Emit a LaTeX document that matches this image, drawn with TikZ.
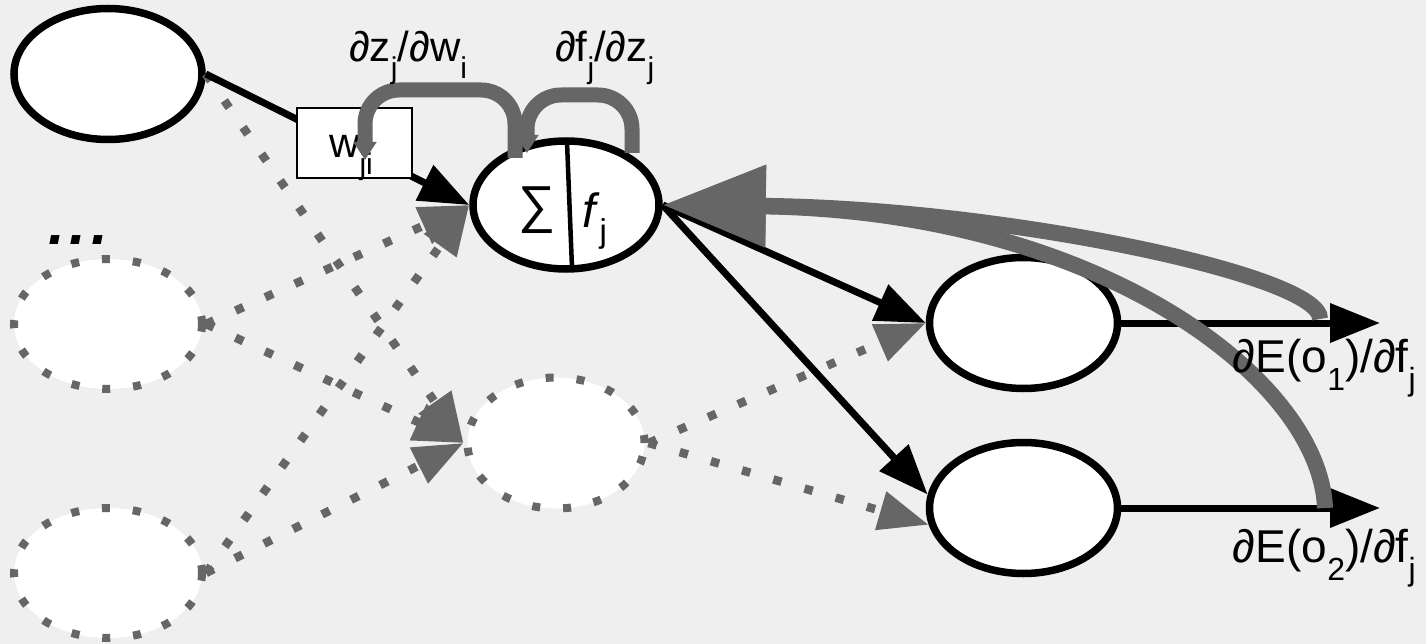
\documentclass[tikz,border=0pt]{standalone}
\usepackage{fontspec}
\setmainfont{Liberation Sans}
\usetikzlibrary{arrows.meta,shapes.geometric}

\definecolor{bgcol}{HTML}{EFEFEF}
\definecolor{dgray}{HTML}{666666}

% lowered, smaller index as used in the formulas
\newcommand{\lsub}[1]{\raisebox{-17pt}{\fontsize{30}{30}\selectfont #1}}
\newcommand{\bsub}[1]{\raisebox{-18pt}{\fontsize{32}{32}\selectfont #1}}

\tikzset{
  neuron/.style={ellipse, draw=black, line width=7.5pt, fill=white,
    minimum width=188pt, minimum height=131pt, inner sep=0pt},
  ghost/.style={ellipse, draw=dgray, line width=8pt, dash pattern=on 8pt off 23pt,
    fill=white, minimum width=188pt, minimum height=130pt, inner sep=0pt},
  fwd/.style={draw=black, line width=7pt, -{Triangle[length=50pt,width=38pt]}},
  fwdghost/.style={draw=dgray, line width=8.5pt, dash pattern=on 8.5pt off 24pt,
    -{Triangle[length=50pt,width=38pt]}},
  backprop/.style={draw=dgray, line width=16pt, -{Triangle[length=103pt,width=78pt]}},
  bracket/.style={draw=dgray, line width=15pt, rounded corners=34pt,
    -{Triangle[length=18pt,width=22pt]}},
  lab/.style={font=\fontsize{42}{42}\selectfont, inner sep=0pt, anchor=base west},
  biglab/.style={font=\fontsize{46}{46}\selectfont, inner sep=0pt, anchor=base east},
  wbox/.style={rectangle, draw=black, line width=2pt, fill=white,
    minimum width=115pt, minimum height=70pt, inner sep=0pt},
}

\begin{document}
\begin{tikzpicture}[x=1pt,y=-1pt]
  \fill[bgcol] (0,0) rectangle (1426,644);
  \useasboundingbox (0,0) rectangle (1426,644);

  % units
  \node[neuron] (tl) at (108,74) {};
  \node[ghost]  (g1) at (108,324) {};
  \node[ghost]  (g2) at (108,573) {};
  \node[neuron, minimum width=186pt, minimum height=128pt] (hid) at (566,205) {};
  \node[ghost, minimum width=177pt, minimum height=131pt] (mid) at (556,443) {};
  \node[neuron] (o1) at (1023.5,323) {};
  \node[neuron] (o2) at (1023.5,508) {};

  \node[font=\fontsize{60}{60}\selectfont\bfseries\itshape, inner sep=0pt,
        anchor=base west] (dots) at (48,245) {.\kern5pt.\kern5pt.};

  % inactive connections
  \draw[fwdghost] (tl.east) -- (mid.west);
  \draw[fwdghost] (g1.east) -- (hid.west);
  \draw[fwdghost] (g1.east) -- (mid.west);
  \draw[fwdghost] (g2.east) -- (hid.west);
  \draw[fwdghost] (g2.east) -- (mid.west);
  \draw[fwdghost] (mid.east) -- (o1.west);
  \draw[fwdghost] (mid.east) -- (o2.190);

  % active forward connections
  \draw[fwd] (tl.east) -- (hid.west);
  \draw[fwd] (hid.east) -- (o1.west);
  \draw[fwd] (hid.east) -- (o2.172);
  \coordinate (e1) at (1380,323);
  \coordinate (e2) at (1380,508);
  \draw[fwd] (o1.east) -- (e1);
  \draw[fwd] (o2.east) -- (e2);

  % weight
  \node[wbox] (wji) at (354.5,143) {};
  \node[lab] (wlab) at (329,158) {w\lsub{ji}};

  % inside the hidden unit
  \draw[black, line width=4.5pt] (567,142) -- (572,268);
  \node[font=\fontsize{52}{52}\selectfont, inner sep=0pt] (sig) at (537,210) {∑};
  \node[font=\fontsize{48}{48}\selectfont, inner sep=0pt, anchor=base west] (fj)
    at (582,228) {\textit{f}\raisebox{-15pt}{\fontsize{33}{33}\selectfont j}};

  % local derivatives
  \coordinate (b1s) at (515,158);
  \coordinate (b1e) at (365,160);
  \coordinate (b2s) at (632,153);
  \coordinate (b2e) at (527,153);
  \draw[bracket] (b1s) -- ++(0,-68) -| (b1e);
  \draw[bracket] (b2s) -- ++(0,-58) -| (b2e);

  % error signals flowing back
  \coordinate (s1) at (1320,319);
  \coordinate (s2) at (1325,508);
  \draw[backprop] (s1) .. controls (1322,275) and (1000,208) .. (hid.east);
  \draw[backprop] (s2) .. controls (1320,380) and (1100,211) .. (hid.east);

  % labels
  \node[lab] (lz) at (349,62) {∂z\lsub{j}/∂w\lsub{i}};
  \node[lab] (lf) at (555,62) {∂f\lsub{j}/∂z\lsub{j}};
  \node[biglab] (le1) at (1416,372) {∂E(o\bsub{1})/∂f\bsub{j}};
  \node[biglab] (le2) at (1416,562) {∂E(o\bsub{2})/∂f\bsub{j}};
\end{tikzpicture}
\end{document}
